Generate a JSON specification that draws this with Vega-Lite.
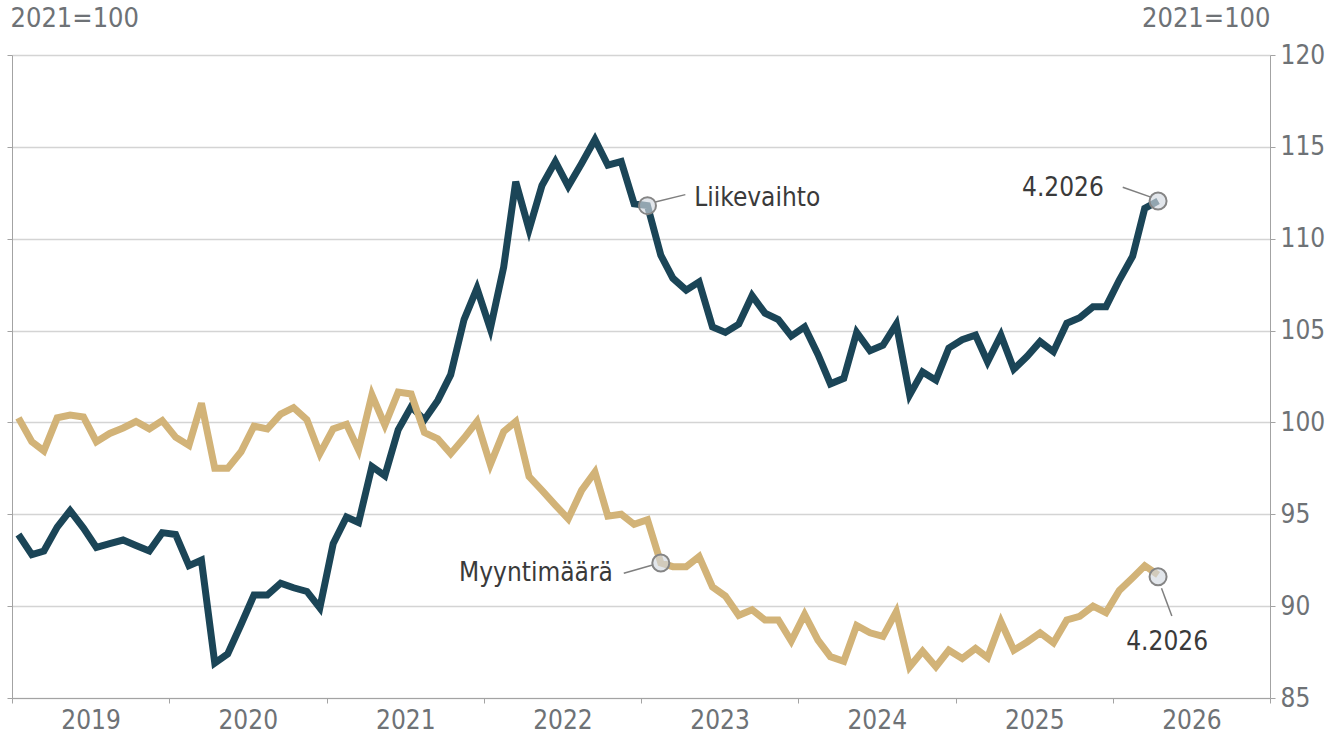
{
  "$schema": "https://vega.github.io/schema/vega-lite/v6.json",
  "width": 1258,
  "height": 643,
  "autosize": "none",
  "padding": {"left": 12, "top": 55, "right": 60, "bottom": 38},
  "background": "white",
  "config": {"font": "DejaVu Sans Condensed", "view": {"stroke": null}},
  "datasets": {
    "main": [
      {"d":"2019-01-16","s":"Liikevaihto","v":93.9},{"d":"2019-02-16","s":"Liikevaihto","v":92.8},{"d":"2019-03-16","s":"Liikevaihto","v":93.0},{"d":"2019-04-16","s":"Liikevaihto","v":94.3},{"d":"2019-05-16","s":"Liikevaihto","v":95.2},{"d":"2019-06-16","s":"Liikevaihto","v":94.25},{"d":"2019-07-16","s":"Liikevaihto","v":93.2},{"d":"2019-08-16","s":"Liikevaihto","v":93.4},{"d":"2019-09-16","s":"Liikevaihto","v":93.6},{"d":"2019-10-16","s":"Liikevaihto","v":93.3},{"d":"2019-11-16","s":"Liikevaihto","v":93.0},{"d":"2019-12-16","s":"Liikevaihto","v":94.0},
      {"d":"2020-01-16","s":"Liikevaihto","v":93.9},{"d":"2020-02-16","s":"Liikevaihto","v":92.2},{"d":"2020-03-16","s":"Liikevaihto","v":92.5},{"d":"2020-04-16","s":"Liikevaihto","v":86.9},{"d":"2020-05-16","s":"Liikevaihto","v":87.4},{"d":"2020-06-16","s":"Liikevaihto","v":89.0},{"d":"2020-07-16","s":"Liikevaihto","v":90.6},{"d":"2020-08-16","s":"Liikevaihto","v":90.6},{"d":"2020-09-16","s":"Liikevaihto","v":91.25},{"d":"2020-10-16","s":"Liikevaihto","v":91.0},{"d":"2020-11-16","s":"Liikevaihto","v":90.8},{"d":"2020-12-16","s":"Liikevaihto","v":89.9},
      {"d":"2021-01-16","s":"Liikevaihto","v":93.4},{"d":"2021-02-16","s":"Liikevaihto","v":94.85},{"d":"2021-03-16","s":"Liikevaihto","v":94.55},{"d":"2021-04-16","s":"Liikevaihto","v":97.6},{"d":"2021-05-16","s":"Liikevaihto","v":97.1},{"d":"2021-06-16","s":"Liikevaihto","v":99.6},{"d":"2021-07-16","s":"Liikevaihto","v":100.85},{"d":"2021-08-16","s":"Liikevaihto","v":100.15},{"d":"2021-09-16","s":"Liikevaihto","v":101.2},{"d":"2021-10-16","s":"Liikevaihto","v":102.6},{"d":"2021-11-16","s":"Liikevaihto","v":105.6},{"d":"2021-12-16","s":"Liikevaihto","v":107.3},
      {"d":"2022-01-16","s":"Liikevaihto","v":105.1},{"d":"2022-02-16","s":"Liikevaihto","v":108.45},{"d":"2022-03-16","s":"Liikevaihto","v":113.1},{"d":"2022-04-16","s":"Liikevaihto","v":110.5},{"d":"2022-05-16","s":"Liikevaihto","v":112.9},{"d":"2022-06-16","s":"Liikevaihto","v":114.2},{"d":"2022-07-16","s":"Liikevaihto","v":112.85},{"d":"2022-08-16","s":"Liikevaihto","v":114.1},{"d":"2022-09-16","s":"Liikevaihto","v":115.4},{"d":"2022-10-16","s":"Liikevaihto","v":114.0},{"d":"2022-11-16","s":"Liikevaihto","v":114.2},{"d":"2022-12-16","s":"Liikevaihto","v":111.9},
      {"d":"2023-01-16","s":"Liikevaihto","v":111.8},{"d":"2023-02-16","s":"Liikevaihto","v":109.1},{"d":"2023-03-16","s":"Liikevaihto","v":107.85},{"d":"2023-04-16","s":"Liikevaihto","v":107.2},{"d":"2023-05-16","s":"Liikevaihto","v":107.65},{"d":"2023-06-16","s":"Liikevaihto","v":105.2},{"d":"2023-07-16","s":"Liikevaihto","v":104.9},{"d":"2023-08-16","s":"Liikevaihto","v":105.35},{"d":"2023-09-16","s":"Liikevaihto","v":106.9},{"d":"2023-10-16","s":"Liikevaihto","v":105.95},{"d":"2023-11-16","s":"Liikevaihto","v":105.6},{"d":"2023-12-16","s":"Liikevaihto","v":104.7},
      {"d":"2024-01-16","s":"Liikevaihto","v":105.2},{"d":"2024-02-16","s":"Liikevaihto","v":103.7},{"d":"2024-03-16","s":"Liikevaihto","v":102.1},{"d":"2024-04-16","s":"Liikevaihto","v":102.4},{"d":"2024-05-16","s":"Liikevaihto","v":104.9},{"d":"2024-06-16","s":"Liikevaihto","v":103.9},{"d":"2024-07-16","s":"Liikevaihto","v":104.2},{"d":"2024-08-16","s":"Liikevaihto","v":105.35},{"d":"2024-09-16","s":"Liikevaihto","v":101.5},{"d":"2024-10-16","s":"Liikevaihto","v":102.75},{"d":"2024-11-16","s":"Liikevaihto","v":102.3},{"d":"2024-12-16","s":"Liikevaihto","v":104.05},
      {"d":"2025-01-16","s":"Liikevaihto","v":104.5},{"d":"2025-02-16","s":"Liikevaihto","v":104.75},{"d":"2025-03-16","s":"Liikevaihto","v":103.3},{"d":"2025-04-16","s":"Liikevaihto","v":104.75},{"d":"2025-05-16","s":"Liikevaihto","v":102.9},{"d":"2025-06-16","s":"Liikevaihto","v":103.6},{"d":"2025-07-16","s":"Liikevaihto","v":104.4},{"d":"2025-08-16","s":"Liikevaihto","v":103.85},{"d":"2025-09-16","s":"Liikevaihto","v":105.4},{"d":"2025-10-16","s":"Liikevaihto","v":105.7},{"d":"2025-11-16","s":"Liikevaihto","v":106.3},{"d":"2025-12-16","s":"Liikevaihto","v":106.3},
      {"d":"2026-01-16","s":"Liikevaihto","v":107.75},{"d":"2026-02-16","s":"Liikevaihto","v":109.05},{"d":"2026-03-16","s":"Liikevaihto","v":111.65},{"d":"2026-04-16","s":"Liikevaihto","v":112.05},
      {"d":"2019-01-16","s":"Myyntimäärä","v":100.25},{"d":"2019-02-16","s":"Myyntimäärä","v":98.95},{"d":"2019-03-16","s":"Myyntimäärä","v":98.45},{"d":"2019-04-16","s":"Myyntimäärä","v":100.25},{"d":"2019-05-16","s":"Myyntimäärä","v":100.4},{"d":"2019-06-16","s":"Myyntimäärä","v":100.3},{"d":"2019-07-16","s":"Myyntimäärä","v":98.95},{"d":"2019-08-16","s":"Myyntimäärä","v":99.4},{"d":"2019-09-16","s":"Myyntimäärä","v":99.7},{"d":"2019-10-16","s":"Myyntimäärä","v":100.05},{"d":"2019-11-16","s":"Myyntimäärä","v":99.65},{"d":"2019-12-16","s":"Myyntimäärä","v":100.1},
      {"d":"2020-01-16","s":"Myyntimäärä","v":99.2},{"d":"2020-02-16","s":"Myyntimäärä","v":98.75},{"d":"2020-03-16","s":"Myyntimäärä","v":101.05},{"d":"2020-04-16","s":"Myyntimäärä","v":97.5},{"d":"2020-05-16","s":"Myyntimäärä","v":97.5},{"d":"2020-06-16","s":"Myyntimäärä","v":98.4},{"d":"2020-07-16","s":"Myyntimäärä","v":99.8},{"d":"2020-08-16","s":"Myyntimäärä","v":99.65},{"d":"2020-09-16","s":"Myyntimäärä","v":100.45},{"d":"2020-10-16","s":"Myyntimäärä","v":100.8},{"d":"2020-11-16","s":"Myyntimäärä","v":100.15},{"d":"2020-12-16","s":"Myyntimäärä","v":98.3},
      {"d":"2021-01-16","s":"Myyntimäärä","v":99.65},{"d":"2021-02-16","s":"Myyntimäärä","v":99.9},{"d":"2021-03-16","s":"Myyntimäärä","v":98.5},{"d":"2021-04-16","s":"Myyntimäärä","v":101.5},{"d":"2021-05-16","s":"Myyntimäärä","v":99.85},{"d":"2021-06-16","s":"Myyntimäärä","v":101.65},{"d":"2021-07-16","s":"Myyntimäärä","v":101.55},{"d":"2021-08-16","s":"Myyntimäärä","v":99.45},{"d":"2021-09-16","s":"Myyntimäärä","v":99.1},{"d":"2021-10-16","s":"Myyntimäärä","v":98.3},{"d":"2021-11-16","s":"Myyntimäärä","v":99.15},{"d":"2021-12-16","s":"Myyntimäärä","v":100.05},
      {"d":"2022-01-16","s":"Myyntimäärä","v":97.7},{"d":"2022-02-16","s":"Myyntimäärä","v":99.5},{"d":"2022-03-16","s":"Myyntimäärä","v":100.05},{"d":"2022-04-16","s":"Myyntimäärä","v":97.05},{"d":"2022-05-16","s":"Myyntimäärä","v":96.3},{"d":"2022-06-16","s":"Myyntimäärä","v":95.5},{"d":"2022-07-16","s":"Myyntimäärä","v":94.75},{"d":"2022-08-16","s":"Myyntimäärä","v":96.3},{"d":"2022-09-16","s":"Myyntimäärä","v":97.3},{"d":"2022-10-16","s":"Myyntimäärä","v":94.9},{"d":"2022-11-16","s":"Myyntimäärä","v":95.0},{"d":"2022-12-16","s":"Myyntimäärä","v":94.45},
      {"d":"2023-01-16","s":"Myyntimäärä","v":94.7},{"d":"2023-02-16","s":"Myyntimäärä","v":92.35},{"d":"2023-03-16","s":"Myyntimäärä","v":92.15},{"d":"2023-04-16","s":"Myyntimäärä","v":92.15},{"d":"2023-05-16","s":"Myyntimäärä","v":92.7},{"d":"2023-06-16","s":"Myyntimäärä","v":91.05},{"d":"2023-07-16","s":"Myyntimäärä","v":90.55},{"d":"2023-08-16","s":"Myyntimäärä","v":89.5},{"d":"2023-09-16","s":"Myyntimäärä","v":89.8},{"d":"2023-10-16","s":"Myyntimäärä","v":89.25},{"d":"2023-11-16","s":"Myyntimäärä","v":89.25},{"d":"2023-12-16","s":"Myyntimäärä","v":88.1},
      {"d":"2024-01-16","s":"Myyntimäärä","v":89.55},{"d":"2024-02-16","s":"Myyntimäärä","v":88.15},{"d":"2024-03-16","s":"Myyntimäärä","v":87.25},{"d":"2024-04-16","s":"Myyntimäärä","v":87.0},{"d":"2024-05-16","s":"Myyntimäärä","v":88.95},{"d":"2024-06-16","s":"Myyntimäärä","v":88.55},{"d":"2024-07-16","s":"Myyntimäärä","v":88.35},{"d":"2024-08-16","s":"Myyntimäärä","v":89.7},{"d":"2024-09-16","s":"Myyntimäärä","v":86.7},{"d":"2024-10-16","s":"Myyntimäärä","v":87.55},{"d":"2024-11-16","s":"Myyntimäärä","v":86.7},{"d":"2024-12-16","s":"Myyntimäärä","v":87.6},
      {"d":"2025-01-16","s":"Myyntimäärä","v":87.15},{"d":"2025-02-16","s":"Myyntimäärä","v":87.7},{"d":"2025-03-16","s":"Myyntimäärä","v":87.2},{"d":"2025-04-16","s":"Myyntimäärä","v":89.15},{"d":"2025-05-16","s":"Myyntimäärä","v":87.6},{"d":"2025-06-16","s":"Myyntimäärä","v":88.05},{"d":"2025-07-16","s":"Myyntimäärä","v":88.55},{"d":"2025-08-16","s":"Myyntimäärä","v":88.0},{"d":"2025-09-16","s":"Myyntimäärä","v":89.25},{"d":"2025-10-16","s":"Myyntimäärä","v":89.45},{"d":"2025-11-16","s":"Myyntimäärä","v":90.0},{"d":"2025-12-16","s":"Myyntimäärä","v":89.65},
      {"d":"2026-01-16","s":"Myyntimäärä","v":90.85},{"d":"2026-02-16","s":"Myyntimäärä","v":91.55},{"d":"2026-03-16","s":"Myyntimäärä","v":92.2},{"d":"2026-04-16","s":"Myyntimäärä","v":91.7}
    ],
    "markers": [
      {"d":"2023-01-16","v":111.8},
      {"d":"2023-02-16","v":92.35},
      {"d":"2026-04-16","v":112.05},
      {"d":"2026-04-16","v":91.6}
    ],
    "leaders": [
      {"d1":"2023-02-03","v1":112.0,"d2":"2023-04-14","v2":112.4},
      {"d1":"2022-11-22","v1":91.79,"d2":"2023-01-28","v2":92.24},
      {"d1":"2026-01-24","v1":112.8,"d2":"2026-04-01","v2":112.25},
      {"d1":"2026-04-24","v1":90.97,"d2":"2026-05-18","v2":89.46}
    ],
    "notes": [
      {"label":"Liikevaihto","d":"2023-09-28","v":112.24},
      {"label":"Myyntimäärä","d":"2022-05-02","v":91.8},
      {"label":"4.2026","d":"2025-09-07","v":112.76},
      {"label":"4.2026","d":"2026-05-07","v":88.06}
    ]
  },
  "layer": [
    {
      "data": {"name": "main"},
      "transform": [{"filter": "datum.s === 'Liikevaihto'"}],
      "mark": {"type": "line", "color": "#1b4557", "strokeWidth": 7},
      "encoding": {
        "x": {
          "field": "d", "type": "temporal", "title": null,
          "scale": {"type": "utc", "domain": [{"year": 2019, "month": 1, "date": 1, "utc": true}, {"year": 2027, "month": 1, "date": 1, "utc": true}]},
          "axis": {
            "values": [
              {"year": 2019, "month": 1, "date": 1, "utc": true},
              {"year": 2020, "month": 1, "date": 1, "utc": true},
              {"year": 2021, "month": 1, "date": 1, "utc": true},
              {"year": 2022, "month": 1, "date": 1, "utc": true},
              {"year": 2023, "month": 1, "date": 1, "utc": true},
              {"year": 2024, "month": 1, "date": 1, "utc": true},
              {"year": 2025, "month": 1, "date": 1, "utc": true},
              {"year": 2026, "month": 1, "date": 1, "utc": true},
              {"year": 2027, "month": 1, "date": 1, "utc": true}
            ],
            "format": "%Y",
            "labelExpr": "utcyear(datum.value) > 2026 ? '' : datum.label",
            "labelOffset": 78.6,
            "labelFlush": false,
            "labelOverlap": false,
            "labelFontSize": 26,
            "labelColor": "#6e7276",
            "labelPadding": 4,
            "tickSize": 5,
            "tickColor": "#a3a3a3",
            "domainColor": "#a3a3a3",
            "grid": false
          }
        },
        "y": {
          "field": "v", "type": "quantitative",
          "scale": {"domain": [85, 120], "nice": false, "zero": false},
          "axis": {
            "orient": "left",
            "values": [85, 90, 95, 100, 105, 110, 115, 120],
            "labels": false,
            "tickSize": 5,
            "tickColor": "#a3a3a3",
            "domainColor": "#a3a3a3",
            "grid": true,
            "gridColor": "#d4d4d4",
            "gridWidth": 1.5,
            "title": "2021=100",
            "titleAngle": 0,
            "titleAlign": "left",
            "titleBaseline": "middle",
            "titleX": -2,
            "titleY": -37,
            "titleFontSize": 27,
            "titleFontWeight": "normal",
            "titleColor": "#6e7276"
          }
        }
      }
    },
    {
      "data": {"name": "main"},
      "transform": [{"filter": "datum.s === 'Myyntimäärä'"}],
      "mark": {"type": "line", "color": "#d2b378", "strokeWidth": 7},
      "encoding": {
        "x": {"field": "d", "type": "temporal", "title": null},
        "y": {
          "field": "v", "type": "quantitative",
          "axis": {
            "orient": "right",
            "values": [85, 90, 95, 100, 105, 110, 115, 120],
            "labelFontSize": 26,
            "labelColor": "#6e7276",
            "labelPadding": 5,
            "tickSize": 5,
            "tickColor": "#a3a3a3",
            "domainColor": "#a3a3a3",
            "grid": false,
            "title": "2021=100",
            "titleAngle": 0,
            "titleAlign": "right",
            "titleBaseline": "middle",
            "titleX": 0,
            "titleY": -37,
            "titleFontSize": 27,
            "titleFontWeight": "normal",
            "titleColor": "#6e7276"
          }
        }
      }
    },
    {
      "data": {"name": "leaders"},
      "mark": {"type": "rule", "color": "#7f7f7f", "strokeWidth": 1.5},
      "encoding": {
        "x": {"field": "d1", "type": "temporal", "title": null},
        "x2": {"field": "d2"},
        "y": {"field": "v1", "type": "quantitative", "axis": null},
        "y2": {"field": "v2"}
      }
    },
    {
      "data": {"name": "markers"},
      "mark": {"type": "point", "shape": "circle", "filled": true, "size": 290, "fill": "#d3d8e1", "fillOpacity": 0.65, "stroke": "#858585", "strokeWidth": 2, "opacity": 1},
      "encoding": {
        "x": {"field": "d", "type": "temporal", "title": null},
        "y": {"field": "v", "type": "quantitative", "axis": null}
      }
    },
    {
      "data": {"name": "notes"},
      "mark": {"type": "text", "fontSize": 26, "color": "#3a3a3a", "align": "center", "baseline": "middle"},
      "encoding": {
        "x": {"field": "d", "type": "temporal", "title": null},
        "y": {"field": "v", "type": "quantitative", "axis": null},
        "text": {"field": "label"}
      }
    }
  ],
  "resolve": {"axis": {"y": "independent"}}
}
